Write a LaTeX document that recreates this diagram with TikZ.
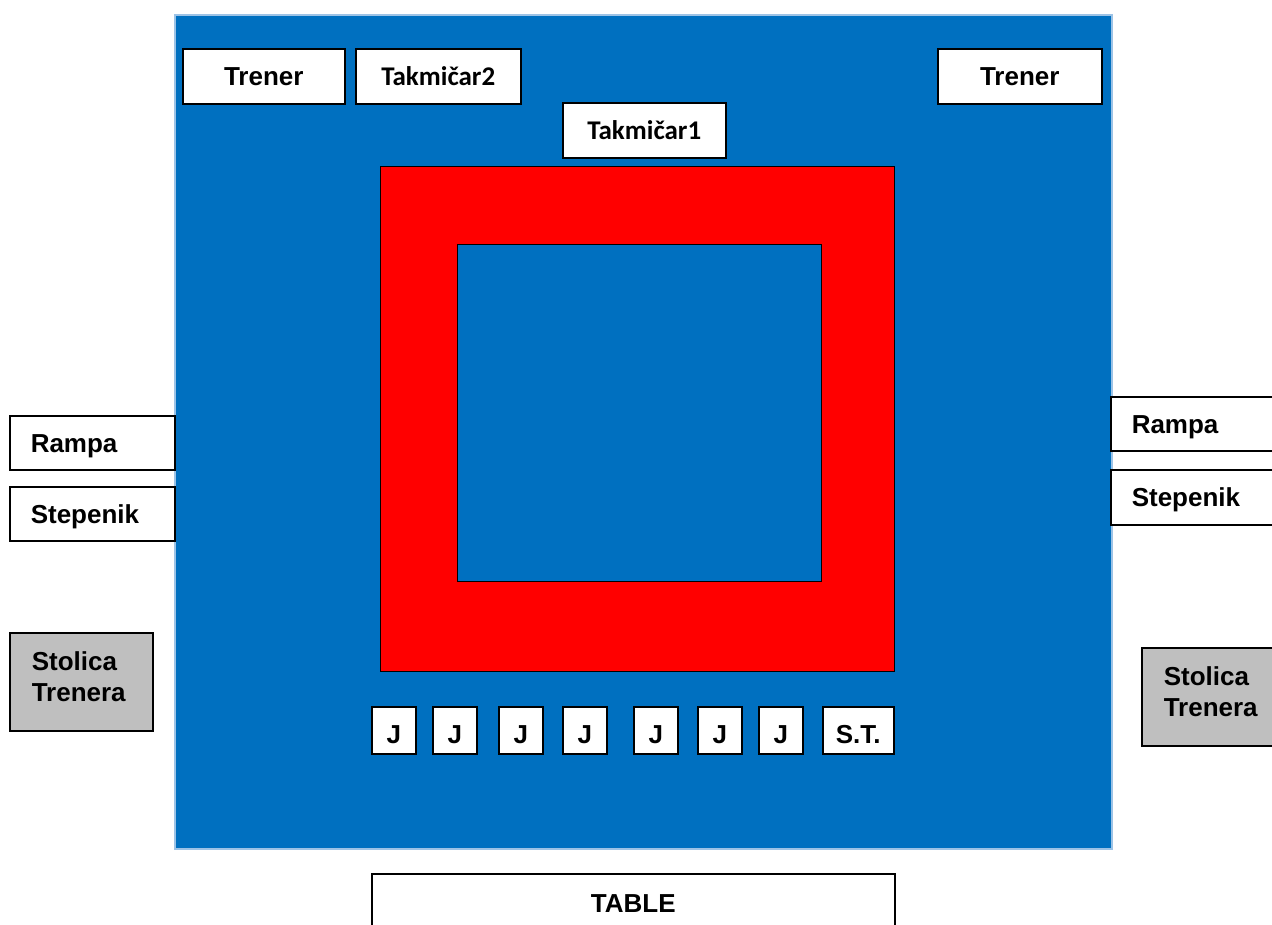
\documentclass[tikz,border=0pt]{standalone}
\usepackage{fontspec}
\setmainfont{Liberation Sans}
\newfontfamily\calfont{Carlito}
\definecolor{matblue}{HTML}{0070C0}
\definecolor{matedge}{HTML}{9DC3E6}
\definecolor{ringred}{HTML}{FF0000}
\definecolor{chairgray}{HTML}{BFBFBF}
\tikzset{
  wbox/.style={draw=black, line width=1.5pt, fill=white, anchor=north west, inner sep=0pt,
    font=\fontsize{26}{30}\selectfont\bfseries, text height=19pt, text depth=0pt},
  kbox/.style={wbox, font=\calfont\fontsize{27}{30}\selectfont\bfseries, text height=18pt},
  sidebox/.style={wbox, align=left, inner xsep=21pt},
  chairbox/.style={draw=black, line width=1.5pt, fill=chairgray, anchor=north west, inner xsep=22pt,
    align=left, font=\fontsize{26}{31}\selectfont\bfseries, text height=19pt, text depth=41pt},
  jbox/.style={draw=black, line width=1.5pt, fill=white, anchor=north west, inner sep=0pt,
    minimum width=44pt, minimum height=47pt},
  jtext/.style={font=\fontsize{26}{30}\selectfont\bfseries, anchor=base, inner sep=0pt},
}
\begin{document}
\begin{tikzpicture}[x=1pt,y=-1pt]
\useasboundingbox (0,0) rectangle (1272,924);
% mat
\node[draw=matedge, line width=1.5pt, fill=matblue, anchor=north west, inner sep=0pt,
  minimum width=937pt, minimum height=834pt] (mat) at (174,14) {};
% ring
\node[draw=black, line width=1.2pt, fill=ringred, anchor=north west, inner sep=0pt,
  minimum width=514pt, minimum height=505pt] (ring) at (380,166) {};
\node[draw=black, line width=1.2pt, fill=matblue, anchor=north west, inner sep=0pt,
  minimum width=364pt, minimum height=337pt] (inner) at (457,244) {};
% top boxes
\node[wbox, minimum width=162pt, minimum height=55pt] (trenerL) at (182,48) {Trener};
\node[kbox, minimum width=165pt, minimum height=55pt] (tak2) at (355,48) {Takmičar2};
\node[wbox, minimum width=164pt, minimum height=55pt] (trenerR) at (937,48) {Trener};
\node[kbox, minimum width=163pt, minimum height=55pt] (tak1) at (562,102) {Takmičar1};
% left side
\node[sidebox, text width=123pt, minimum height=54pt] (rampaL) at (9,415) {Rampa};
\node[sidebox, text width=123pt, minimum height=54pt] (stepL) at (9,486) {Stepenik};
\node[chairbox, text width=99pt, minimum height=98pt] (stolL) at (9,632) {Stolica\\Trenera};
% right side
\node[sidebox, text width=128pt, minimum height=54pt] (rampaR) at (1110,396) {Rampa};
\node[sidebox, text width=128pt, minimum height=55pt] (stepR) at (1110,469) {Stepenik};
\node[chairbox, text width=95pt, minimum height=98pt] (stolR) at (1141,647) {Stolica\\Trenera};
% judges
\node[jbox] (j1) at (371,706) {};
\node[jbox] (j2) at (432,706) {};
\node[jbox] (j3) at (498,706) {};
\node[jbox] (j4) at (562,706) {};
\node[jbox] (j5) at (633,706) {};
\node[jbox] (j6) at (697,706) {};
\node[jbox] (j7) at (758,706) {};
\node[jbox, minimum width=71pt] (st) at (822,706) {};
\foreach \n in {j1,j2,j3,j4,j5,j6,j7}{
  \node[jtext] (\n t) at ([yshift=-13.5pt]\n.center) {J};
}
\node[jtext] (stt) at ([yshift=-13.5pt]st.center) {S.T.};
% table
\node[wbox, minimum width=523pt, minimum height=58pt] (table) at (371,873) {TABLE};
\end{tikzpicture}
\end{document}
